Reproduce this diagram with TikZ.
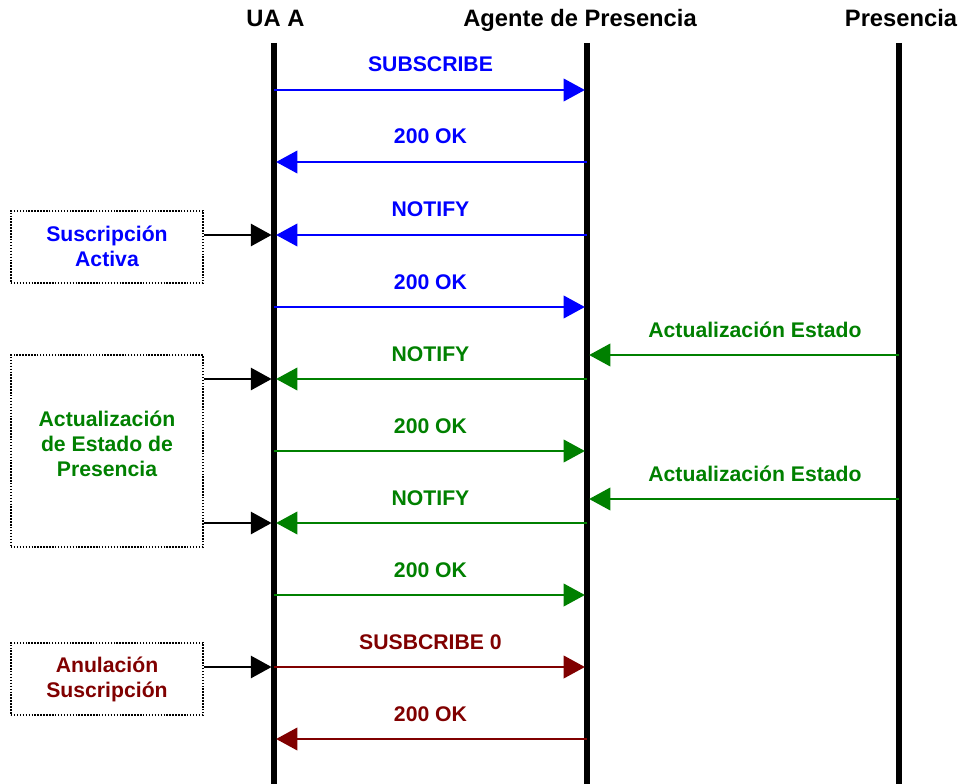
\documentclass[tikz,border=0pt]{standalone}
\usepackage{fontspec}
\setmainfont{Liberation Sans}
\usetikzlibrary{arrows.meta}
\definecolor{msgblue}{RGB}{0,0,255}
\definecolor{msggreen}{RGB}{0,128,0}
\definecolor{msgred}{RGB}{128,0,0}

\begin{document}
\begin{tikzpicture}[x=0.75pt,y=-0.75pt,
  lifeline/.style={line width=3.9pt},
  head/.style={font=\bfseries\fontsize{17.8}{20}\selectfont, inner sep=0pt, anchor=base},
  msg/.style={line width=1.6pt, -{Triangle[length=16pt,width=17pt]}, shorten >=1.6pt},
  lbl/.style={font=\bfseries\fontsize{15.9}{19}\selectfont, inner sep=0pt, anchor=base, yshift=13.5pt},
  notebox/.style={draw, line width=1.2pt, dash pattern=on 1.1pt off 1.1pt,
                  minimum width=144pt, inner sep=0pt},
  notetext/.style={font=\bfseries\fontsize{15.9}{18.75}\selectfont, align=center, inner sep=0pt},
  hook/.style={line width=1.9pt, -{Triangle[length=15.5pt,width=16.5pt]}, shorten >=1.8pt}
]
\useasboundingbox (0,0) rectangle (959,784);

% column headings
\node[head] (hUA) at (275.5,27) {UA A};
\node[head] (hAG) at (580,27) {Agente de Presencia};
\node[head] (hPR) at (901,27) {Presencia};

% lifelines
\coordinate (uaTop) at (274,43);  \coordinate (uaBot) at (274,784);
\coordinate (agTop) at (587,43);  \coordinate (agBot) at (587,784);
\coordinate (prTop) at (899,43);  \coordinate (prBot) at (899,784);
\draw[lifeline] (uaTop) -- (uaBot);
\draw[lifeline] (agTop) -- (agBot);
\draw[lifeline] (prTop) -- (prBot);

% message anchors on the UA A / Agente lifelines
\foreach \i/\y in {1/90,2/162,3/235,4/307,5/379,6/451,7/523,8/595,9/667,10/739} {
  \coordinate (u\i) at (274,\y);
  \coordinate (g\i) at (587,\y);
}
% status updates from Presencia
\coordinate (p1) at (899,355); \coordinate (q1) at (587,355);
\coordinate (p2) at (899,499); \coordinate (q2) at (587,499);

% subscription
\draw[msg,msgblue] (u1) -- node[lbl]{SUBSCRIBE} (g1);
\draw[msg,msgblue] (g2) -- node[lbl]{200 OK} (u2);
\draw[msg,msgblue] (g3) -- node[lbl]{NOTIFY} (u3);
\draw[msg,msgblue] (u4) -- node[lbl]{200 OK} (g4);

% presence updates
\draw[msg,msggreen] (p1) -- node[lbl,xshift=9pt]{Actualización Estado} (q1);
\draw[msg,msggreen] (g5) -- node[lbl]{NOTIFY} (u5);
\draw[msg,msggreen] (u6) -- node[lbl]{200 OK} (g6);
\draw[msg,msggreen] (p2) -- node[lbl,xshift=9pt]{Actualización Estado} (q2);
\draw[msg,msggreen] (g7) -- node[lbl]{NOTIFY} (u7);
\draw[msg,msggreen] (u8) -- node[lbl]{200 OK} (g8);

% cancellation
\draw[msg,msgred] (u9) -- node[lbl]{SUSBCRIBE 0} (g9);
\draw[msg,msgred] (g10) -- node[lbl]{200 OK} (u10);

% side notes
\node[notebox, minimum height=54pt] (n1) at (107,247) {};
\node[notetext, text=msgblue] (t1) at (107,246) {Suscripción\\Activa};

\node[notebox, minimum height=144pt] (n2) at (107,451) {};
\node[notetext, text=msggreen] (t2) at (107,444) {Actualización\\de Estado de\\Presencia};

\node[notebox, minimum height=54pt] (n3) at (107,679) {};
\node[notetext, text=msgred] (t3) at (107,679) {Anulación\\Suscripción};

\draw[hook] (n1.east |- u3) -- (u3);
\draw[hook] (n2.east |- u5) -- (u5);
\draw[hook] (n2.east |- u7) -- (u7);
\draw[hook] (n3.east |- u9) -- (u9);
\end{tikzpicture}
\end{document}
